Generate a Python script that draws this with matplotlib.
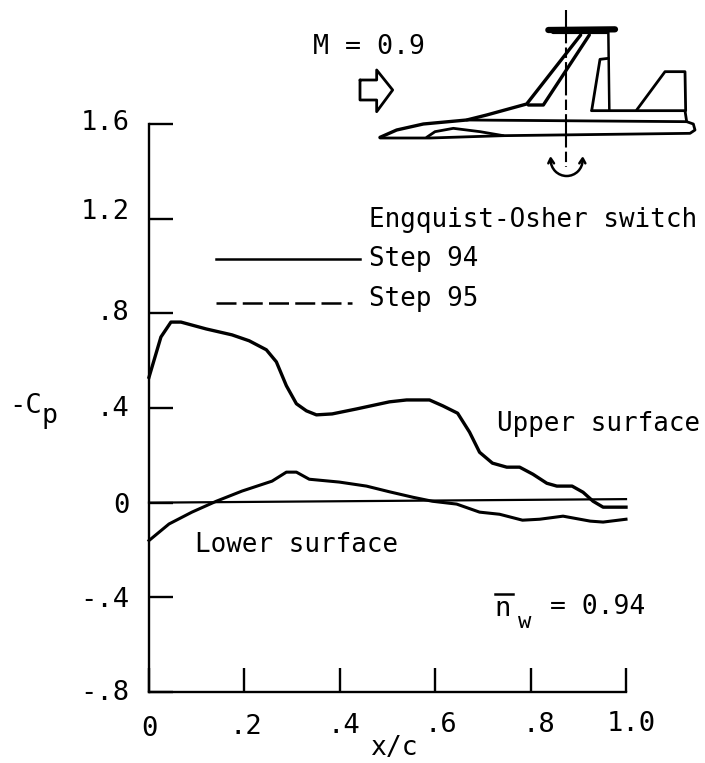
import matplotlib
matplotlib.use("Agg")
import matplotlib.pyplot as plt
from matplotlib.patches import Arc
from matplotlib.transforms import ScaledTranslation

plt.rcParams["font.family"] = ["DejaVu Sans Mono"]

# pressure distribution
upper_x = [0, .025, .046, .067, .12, .174, .21, .246, .267, .288, .309, .33, .351, .384, .435, .504, .54,
           .588, .616, .647, .672, .693, .72, .75, .777, .805, .834, .855, .887, .91, .931, .952, 1.0]
upper_cp = [.53, .70, .763, .763, .734, .709, .684, .646, .595, .494, .418, .388, .371, .375, .396, .426, .434,
            .434, .409, .378, .298, .213, .167, .15, .15, .12, .082, .07, .07, .044, .006, -.019, -.019]
lower_x = [0, .042, .09, .141, .195, .258, .288, .309, .336, .399, .456, .504, .553, .594,
           .645, .693, .735, .783, .819, .868, .925, .952, 1.0]
lower_cp = [-.16, -.09, -.04, .006, .049, .091, .129, .129, .099, .087, .07, .046, .023, .006,
            -.006, -.04, -.049, -.074, -.07, -.057, -.078, -.082, -.07]
zero_x = [0, 1.0]
zero_cp = [0, .015]

xticks = [0, .2, .4, .6, .8, 1.0]
xtick_labels = ["0", ".2", ".4", ".6", ".8", "1.0"]
yticks = [-.8, -.4, 0, .4, .8, 1.2, 1.6]
ytick_labels = ["-.8", "-.4", "0", ".4", ".8", "1.2", "1.6"]

W, H = 705, 763
FS = 18.6
TICK_FS = 19.5

fig = plt.figure(figsize=(W / 100, H / 100), dpi=100)
ax = fig.add_axes([149 / W, (H - 692) / H, 477 / W, 568 / H])
ax.plot(upper_x, upper_cp, color="black", lw=2.4, clip_on=False, solid_joinstyle="round")
ax.plot(lower_x, lower_cp, color="black", lw=2.2, clip_on=False, solid_joinstyle="round")
ax.plot(zero_x, zero_cp, color="black", lw=1.6, clip_on=False)
ax.set_xlim(0, 1)
ax.set_ylim(-.8, 1.6)
ax.spines["top"].set_visible(False)
ax.spines["right"].set_visible(False)
ax.spines["left"].set_linewidth(1.7)
ax.spines["bottom"].set_linewidth(1.7)
ax.set_xticks(xticks)
ax.set_yticks(yticks)
ax.set_xticklabels(xtick_labels, fontsize=TICK_FS)
ax.set_yticklabels(ytick_labels, fontsize=TICK_FS)
ax.tick_params(axis="x", direction="in", length=17, width=1.7, pad=15)
ax.tick_params(axis="y", direction="in", length=17, width=1.7, pad=14)

# the lettering on the original is hand placed, nudge tick labels in pixels
for lab, dx, dy in zip(ax.get_xticklabels(), [0, 1, 4, 6, 8, 5], [-3, -1, 0, 1, 1, 2]):
    lab.set_transform(lab.get_transform() + ScaledTranslation(dx / 100, dy / 100, fig.dpi_scale_trans))
for lab, dy in zip(ax.get_yticklabels(), [2, 0, 0, 2, 3, 10, 4]):
    lab.set_transform(lab.get_transform() + ScaledTranslation(0, dy / 100, fig.dpi_scale_trans))

# overlay in image pixels for the annotations and the aircraft sketch
ov = fig.add_axes([0, 0, 1, 1])
ov.set_xlim(0, W)
ov.set_ylim(H, 0)
ov.axis("off")
ov.patch.set_alpha(0)


def label(x, y, s, size=FS, ha="left"):
    ov.text(x, y, s, fontsize=size, ha=ha, va="center")


label(313, 47, "M = 0.9", size=19.2)
label(369, 220, "Engquist-Osher switch")
label(369, 259, "Step 94")
label(369, 299, "Step 95")
label(497, 424, "Upper surface")
label(195, 545, "Lower surface")
label(9, 406, "-C", size=19.5)
label(41, 416, "p", size=19)
label(370, 748, "x/c", size=19)
label(494, 609, "n", size=19.5)
label(518, 622, "w", size=16)
label(550, 607, "= 0.94", size=19)
ov.plot([495, 513], [594, 594], color="black", lw=1.8)

ov.plot([216, 360], [259, 259], color="black", lw=1.8)
ov.plot([216, 352], [303, 303], color="black", lw=1.8, dashes=(8, 2.5))


def sk(points, lw=1.8):
    # points are read in the 3x crop of the top right corner
    xs = [340 + p[0] / 3 for p in points]
    ys = [p[1] / 3 for p in points]
    ov.plot(xs, ys, color="black", lw=lw, solid_joinstyle="round", solid_capstyle="round")


sk([(120, 412), (170, 390), (250, 372), (380, 360), (440, 345), (560, 312), (722, 105)], 2.4)
sk([(748, 105), (610, 315), (565, 315)], 2.4)
sk([(120, 414), (270, 414), (490, 407), (1050, 400), (1065, 390), (1060, 372), (1040, 365), (380, 360)], 2.0)
sk([(260, 412), (285, 395), (340, 385), (420, 395), (490, 407)], 2.0)
sk([(625, 90), (825, 88)], 4.5)
sk([(640, 95), (800, 95)], 3)
sk([(805, 95), (808, 330)], 1.8)
sk([(755, 332), (1035, 332), (1040, 365)], 2.0)
sk([(755, 332), (780, 178), (805, 175)], 2.0)
sk([(890, 330), (975, 215), (1035, 215), (1037, 332)], 2.0)
sk([(60, 240), (110, 240), (110, 210), (158, 270), (110, 335), (110, 300), (60, 300), (60, 240)], 2.0)
ov.plot([340 + 678 / 3] * 2, [10, 167], color="black", lw=1.5, dashes=(16, 2, 5, 2))

ov.add_patch(Arc((340 + 680 / 3, 160), 32, 32, theta1=0, theta2=180, color="black", lw=1.8))
sk([(625, 490), (632, 475), (642, 490)])
sk([(718, 490), (728, 475), (736, 490)])

fig.savefig("out.png", dpi=100)
